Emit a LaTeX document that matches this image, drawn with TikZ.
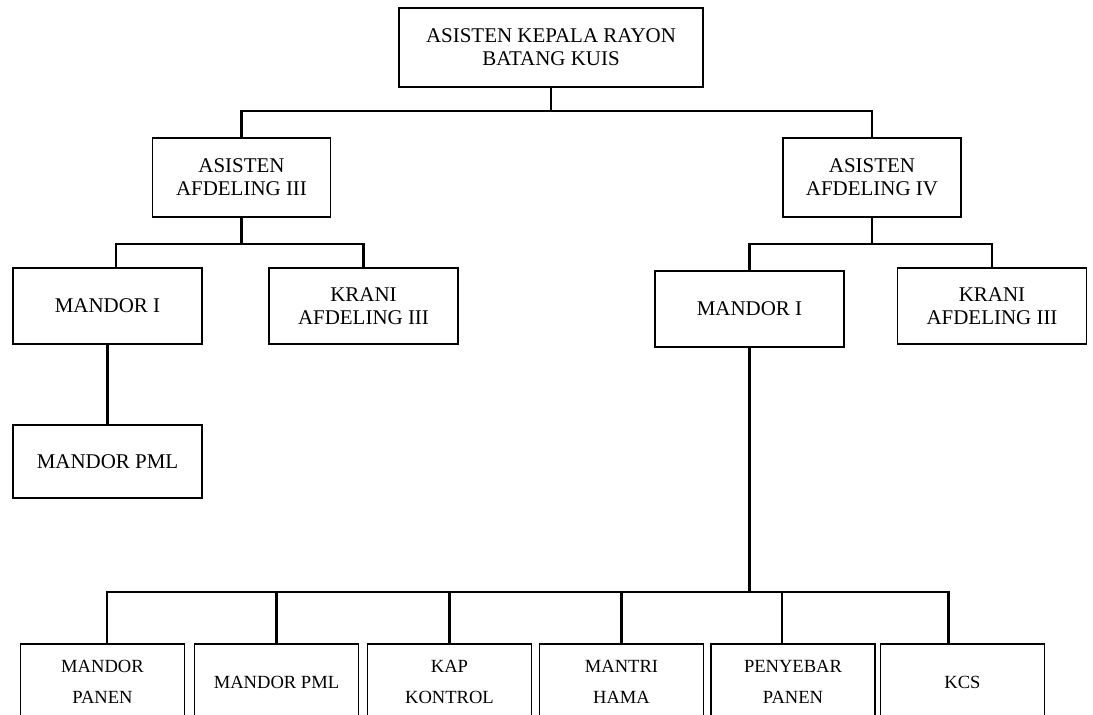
\documentclass[tikz,border=0pt]{standalone}
\usepackage{fontspec}
\setmainfont{Liberation Serif}
\usepackage{tikz}
\usetikzlibrary{positioning, calc}
\tikzset{
  jabatan/.style={rectangle, draw=black, line width=1pt, align=center, inner sep=0pt, font=\fontsize{14.9}{16.3}\selectfont},
  pimpinan/.style={jabatan, minimum width=7.6cm, minimum height=1.975cm},
  asisten/.style={jabatan, minimum width=4.45cm, minimum height=1.975cm},
  mandor/.style={jabatan, minimum width=4.725cm, minimum height=1.9cm},
  staf/.style={rectangle, draw=black, line width=1pt, align=center, inner sep=0pt, minimum width=4.1cm, minimum height=1.9cm, font=\fontsize{13.2}{22}\selectfont},
  garis/.style={line width=1.6pt}
}

\begin{document}
\begin{tikzpicture}[x=0.025cm, y=-0.025cm]
    \useasboundingbox (0,0) rectangle (1093,715);
    \clip (0,0) rectangle (1093,715);

    \node (top) [pimpinan] at (551,47.5) {ASISTEN KEPALA RAYON\\BATANG KUIS};

    \node (a3) [asisten] at (241.5,177.5) {ASISTEN\\AFDELING III};
    \node (a4) [asisten] at (872,177.5) {ASISTEN\\AFDELING IV};

    \node (m1L) [mandor] at (107.5,306) {MANDOR I};
    \node (krL) [mandor] at (363.5,306) {KRANI\\AFDELING III};
    \node (pmlL) [mandor, minimum height=1.825cm] at (107.5,461.5) {MANDOR PML};

    \node (m1R) [mandor] at (749.5,309) {MANDOR I};
    \node (krR) [mandor] at (992,306) {KRANI\\AFDELING III};

    \node (b1) [staf] at (102.5,682) {MANDOR\\PANEN};
    \node (b2) [staf] at (276.5,682) {MANDOR PML};
    \node (b3) [staf] at (449.5,682) {KAP\\KONTROL};
    \node (b4) [staf] at (621.5,682) {MANTRI\\HAMA};
    \node (b5) [staf] at (793,682) {PENYEBAR\\PANEN};
    \node (b6) [staf] at (962.5,682) {KCS};

    % Rayon
    \draw [garis] (top.south) -- ++(0,23) -| (a3.north);
    \draw [garis] (top.south) -- ++(0,23) -| (a4.north);

    % Afdeling III
    \draw [garis] (a3.south) -- ++(0,26) -| ($(m1L.north)+(8.5,0)$);
    \draw [garis] (a3.south) -- ++(0,26) -| (krL.north);
    \draw [garis] (m1L) -- (pmlL);

    % Afdeling IV
    \draw [garis] (a4.south) -- ++(0,26) -| (m1R.north);
    \draw [garis] (a4.south) -- ++(0,26) -| (krR.north);

    % Mandor I ke bawah
    \draw [garis] (m1R.south) -- ++(0,244) -| ($(b1.north)+(4.5,0)$);
    \draw [garis] (m1R.south) -- ++(0,244) -| (b2.north);
    \draw [garis] (m1R.south) -- ++(0,244) -| (b3.north);
    \draw [garis] (m1R.south) -- ++(0,244) -| (b4.north);
    \draw [garis] (m1R.south) -- ++(0,244) -| ($(b5.north)+(-11,0)$);
    \draw [garis] (m1R.south) -- ++(0,244) -| ($(b6.north)+(-14,0)$);

\end{tikzpicture}
\end{document}
